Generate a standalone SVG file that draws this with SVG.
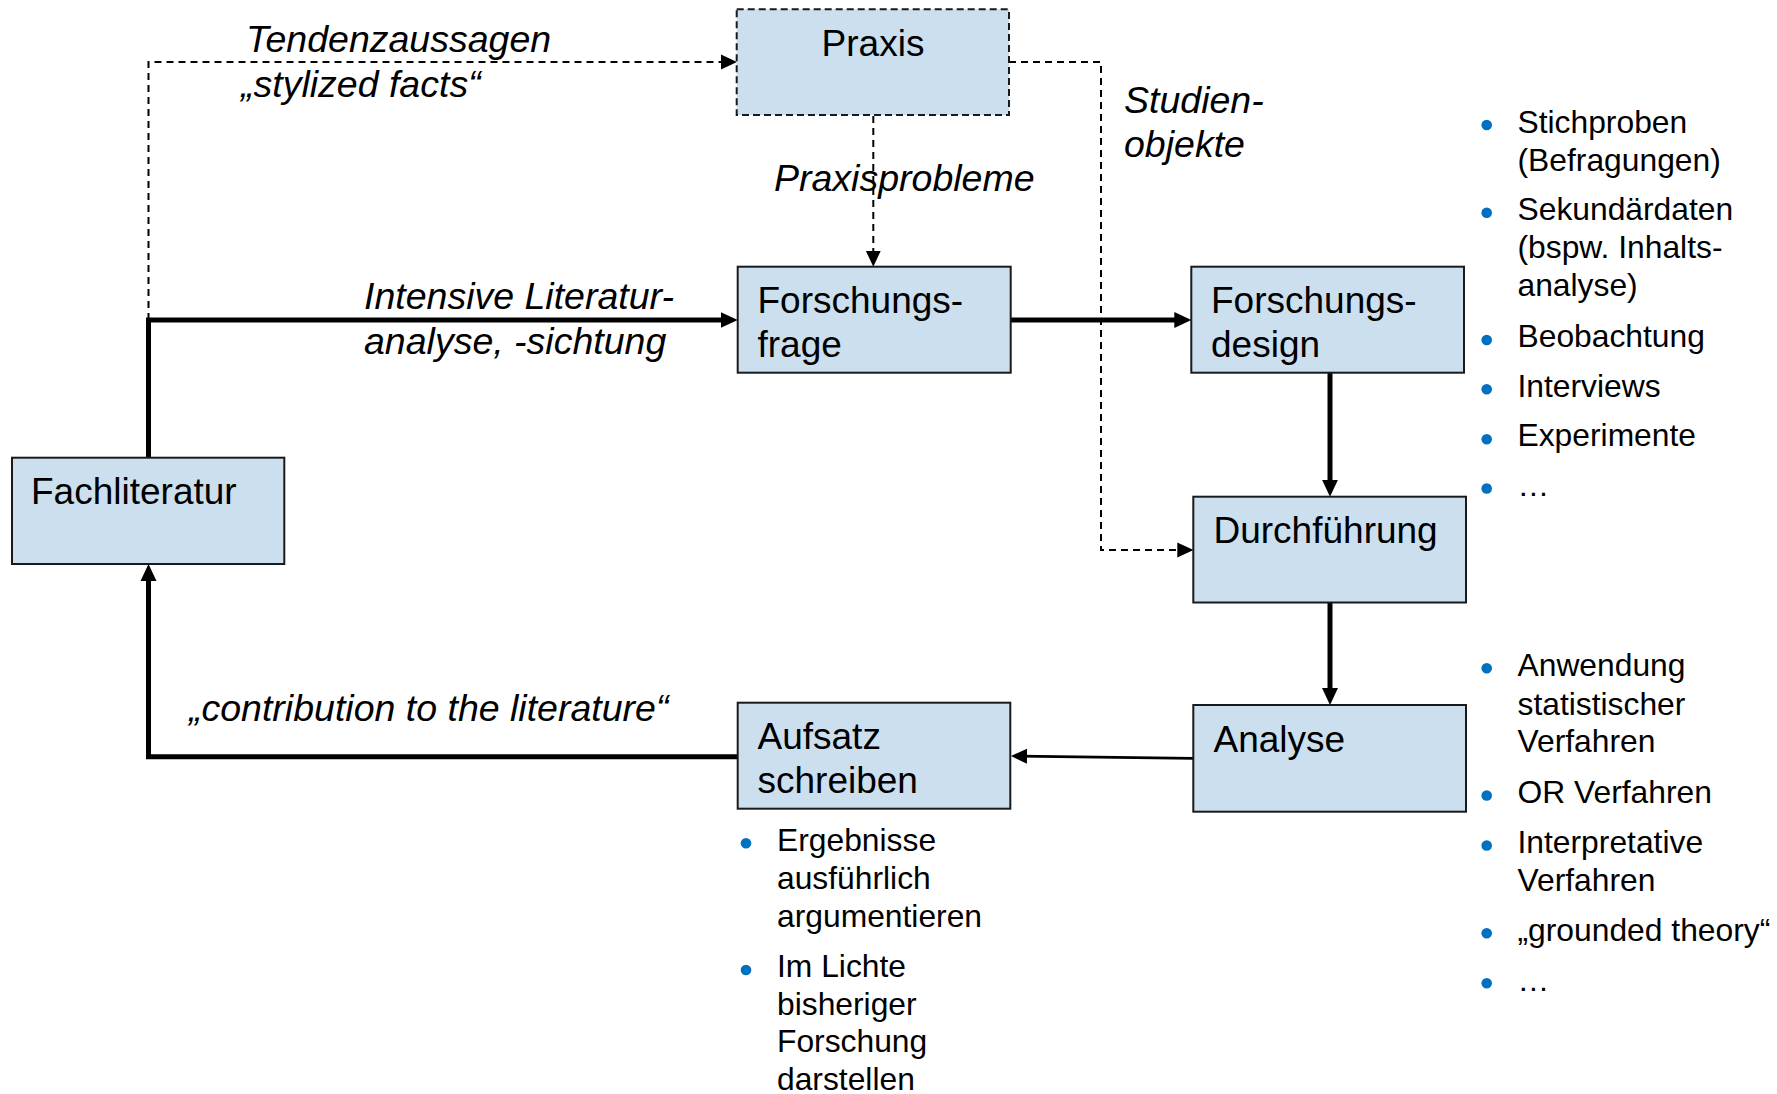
<svg xmlns="http://www.w3.org/2000/svg" width="1777" height="1094" viewBox="0 0 1777 1094">
  <style>
    .box { fill: #cbdfef; stroke: #1a1a1a; stroke-width: 2; }
    .dbox { fill: #cbdfef; stroke: #1a1a1a; stroke-width: 2; stroke-dasharray: 7 4; }
    .lbl { font-family: "Liberation Sans", Arial, sans-serif; font-size: 37px; fill: #000; }
    .it { font-family: "Liberation Sans", Arial, sans-serif; font-size: 37.5px; font-style: italic; fill: #000; }
    .bt { font-family: "Liberation Sans", Arial, sans-serif; font-size: 31.8px; fill: #000; }
    .dot { fill: #0070c0; }
    .thick { fill: none; stroke: #000; stroke-width: 5; }
    .thin { fill: none; stroke: #000; stroke-width: 2.75; }
    .dash { fill: none; stroke: #000; stroke-width: 2; stroke-dasharray: 7 5; }
  </style>
  <defs>
    <marker id="ah" markerUnits="userSpaceOnUse" markerWidth="18" markerHeight="18" refX="9" refY="8" orient="auto" viewBox="0 0 18 16">
      <path d="M0,0 L17,8 L0,16 Z" fill="#000"/>
    </marker>
    <marker id="ahs" markerUnits="userSpaceOnUse" markerWidth="16" markerHeight="16" refX="8" refY="7.5" orient="auto" viewBox="0 0 16 15">
      <path d="M0,0 L16,7.5 L0,15 Z" fill="#000"/>
    </marker>
  </defs>

  <g id="connectors">
    <path class="dash" d="M148.5,320 V62 H729" marker-end="url(#ahs)"/>
    <path class="dash" d="M873.3,116 V258.7" marker-end="url(#ahs)"/>
    <path class="dash" d="M1009,62 H1101 V550 H1185.3" marker-end="url(#ahs)"/>
    <path class="thick" d="M148.5,457.7 V320 H729.7" marker-end="url(#ah)"/>
    <path class="thick" d="M1010.7,320 H1183.3" marker-end="url(#ah)"/>
    <path class="thick" d="M1330,372.7 V488.7" marker-end="url(#ah)"/>
    <path class="thick" d="M1330,602.5 V697" marker-end="url(#ah)"/>
    <path class="thin" d="M1193.3,758.3 L1019,756.1" marker-end="url(#ahs)"/>
    <path class="thick" d="M737.7,756.8 H148.5 V572" marker-end="url(#ah)"/>
  </g>

  <g id="praxis">
    <rect class="dbox" x="736.7" y="9.3" width="272.3" height="105.7"/>
    <text class="lbl" x="873" y="55.5" text-anchor="middle">Praxis</text>
  </g>

  <g id="fachliteratur">
    <rect class="box" x="12" y="457.7" width="272.3" height="106.3"/>
    <text class="lbl" x="31" y="503.5">Fachliteratur</text>
  </g>

  <g id="forschungsfrage">
    <rect class="box" x="737.7" y="266.7" width="273" height="106"/>
    <text class="lbl" x="757.5" y="313.3">Forschungs-</text>
    <text class="lbl" x="757.5" y="356.7">frage</text>
  </g>

  <g id="forschungsdesign">
    <rect class="box" x="1191.3" y="266.7" width="272.7" height="106"/>
    <text class="lbl" x="1211" y="313.3">Forschungs-</text>
    <text class="lbl" x="1211" y="357.3">design</text>
  </g>

  <g id="durchfuehrung">
    <rect class="box" x="1193.3" y="496.7" width="272.7" height="105.8"/>
    <text class="lbl" x="1213.5" y="543.3">Durchführung</text>
  </g>

  <g id="analyse">
    <rect class="box" x="1193.3" y="705" width="272.7" height="106.7"/>
    <text class="lbl" x="1213.5" y="751.6">Analyse</text>
  </g>

  <g id="aufsatz">
    <rect class="box" x="737.7" y="702.7" width="272.6" height="106"/>
    <text class="lbl" x="757.5" y="749.3">Aufsatz</text>
    <text class="lbl" x="757.5" y="792.7">schreiben</text>
  </g>

  <g id="labels">
    <text class="it" x="246" y="52">Tendenzaussagen</text>
    <text class="it" x="241" y="97">„stylized facts“</text>
    <text class="it" x="774" y="191">Praxisprobleme</text>
    <text class="it" x="1124" y="112.5">Studien-</text>
    <text class="it" x="1124" y="156.5">objekte</text>
    <text class="it" x="364" y="309.3">Intensive Literatur-</text>
    <text class="it" x="364" y="354.3">analyse, -sichtung</text>
    <text class="it" x="189" y="720.5">„contribution to the literature“</text>
  </g>

  <g id="list-design">
    <circle class="dot" cx="1486.7" cy="125" r="5.3"/>
    <circle class="dot" cx="1486.7" cy="212.7" r="5.3"/>
    <circle class="dot" cx="1486.7" cy="340" r="5.3"/>
    <circle class="dot" cx="1486.7" cy="389.3" r="5.3"/>
    <circle class="dot" cx="1486.7" cy="439.3" r="5.3"/>
    <circle class="dot" cx="1486.7" cy="488.5" r="5.3"/>
    <text class="bt" x="1517.5" y="132.7">Stichproben</text>
    <text class="bt" x="1517.5" y="170.5">(Befragungen)</text>
    <text class="bt" x="1517.5" y="220">Sekundärdaten</text>
    <text class="bt" x="1517.5" y="258.3">(bspw. Inhalts-</text>
    <text class="bt" x="1517.5" y="295.5">analyse)</text>
    <text class="bt" x="1517.5" y="346.7">Beobachtung</text>
    <text class="bt" x="1517.5" y="396.7">Interviews</text>
    <text class="bt" x="1517.5" y="446">Experimente</text>
    <text class="bt" x="1517.5" y="496">…</text>
  </g>

  <g id="list-analyse">
    <circle class="dot" cx="1486.7" cy="668.3" r="5.3"/>
    <circle class="dot" cx="1486.7" cy="795.5" r="5.3"/>
    <circle class="dot" cx="1486.7" cy="845.5" r="5.3"/>
    <circle class="dot" cx="1486.7" cy="933.3" r="5.3"/>
    <circle class="dot" cx="1486.7" cy="983.3" r="5.3"/>
    <text class="bt" x="1517.5" y="676">Anwendung</text>
    <text class="bt" x="1517.5" y="714.5">statistischer</text>
    <text class="bt" x="1517.5" y="752">Verfahren</text>
    <text class="bt" x="1517.5" y="803.3">OR Verfahren</text>
    <text class="bt" x="1517.5" y="853.3">Interpretative</text>
    <text class="bt" x="1517.5" y="891">Verfahren</text>
    <text class="bt" x="1517.5" y="940.5">„grounded theory“</text>
    <text class="bt" x="1517.5" y="990.5">…</text>
  </g>

  <g id="list-aufsatz">
    <circle class="dot" cx="746" cy="843.3" r="5.3"/>
    <circle class="dot" cx="746" cy="970" r="5.3"/>
    <text class="bt" x="777" y="850.7">Ergebnisse</text>
    <text class="bt" x="777" y="889">ausführlich</text>
    <text class="bt" x="777" y="926.7">argumentieren</text>
    <text class="bt" x="777" y="976.7">Im Lichte</text>
    <text class="bt" x="777" y="1014.5">bisheriger</text>
    <text class="bt" x="777" y="1052.3">Forschung</text>
    <text class="bt" x="777" y="1090">darstellen</text>
  </g>
</svg>
